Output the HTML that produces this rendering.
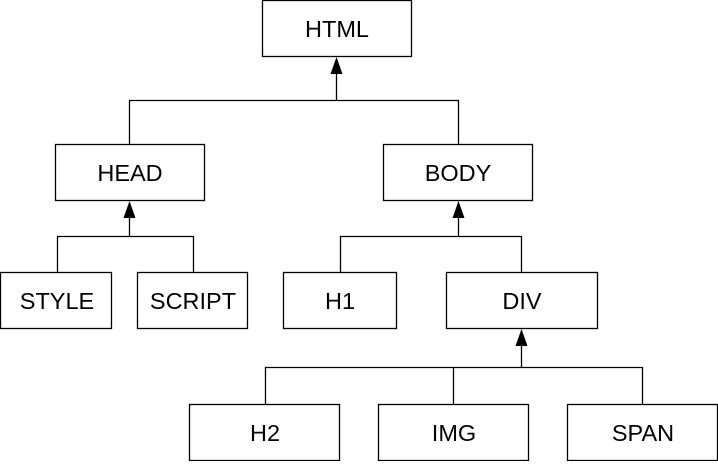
<!DOCTYPE html>
<html><head><style>
html,body{margin:0;padding:0;background:#fff;}
</style></head><body>
<svg width="718" height="461" viewBox="0 0 718 461" xmlns="http://www.w3.org/2000/svg" font-family="Liberation Sans, sans-serif" font-size="23.5">
<g fill="#fff" stroke="#000" stroke-width="1.3">
<rect x="262.5" y="0.5" width="149" height="56"/>
<rect x="55.5" y="144.5" width="149" height="56"/>
<rect x="383.5" y="144.5" width="149" height="56"/>
<rect x="0.5" y="272.5" width="111" height="56"/>
<rect x="137.5" y="272.5" width="110" height="56"/>
<rect x="283.5" y="272.5" width="113" height="56"/>
<rect x="446.5" y="272.5" width="151" height="56"/>
<rect x="189.5" y="404.5" width="150" height="56"/>
<rect x="378.5" y="404.5" width="150" height="56"/>
<rect x="567.5" y="404.5" width="150" height="56"/>
</g>
<g fill="none" stroke="#000" stroke-width="1.3">
<path d="M336.5 72V100.5M129.5 144V100.5H458.5V144"/>
<path d="M129.5 216V236.5M57.5 272V236.5H193.5V272"/>
<path d="M458.5 216V236.5M340.5 272V236.5H521.5V272"/>
<path d="M521.5 344V367.5M265.5 404V367.5H642.5V404M453.5 367.5V404"/>
</g>
<g fill="#000">
<path d="M336.5 57L330.5 74H342.5Z"/>
<path d="M129.5 201L123.5 218H135.5Z"/>
<path d="M458.5 201L452.5 218H464.5Z"/>
<path d="M521.5 329L515.5 346H527.5Z"/>
</g>
<g text-anchor="middle" fill="#000">
<text x="337" y="37">HTML</text>
<text x="130" y="181">HEAD</text>
<text x="458" y="181">BODY</text>
<text x="57" y="309">STYLE</text>
<text x="193" y="309">SCRIPT</text>
<text x="340" y="309">H1</text>
<text x="522" y="309">DIV</text>
<text x="265" y="441">H2</text>
<text x="454" y="441">IMG</text>
<text x="643" y="441">SPAN</text>
</g>
</svg>
</body></html>
